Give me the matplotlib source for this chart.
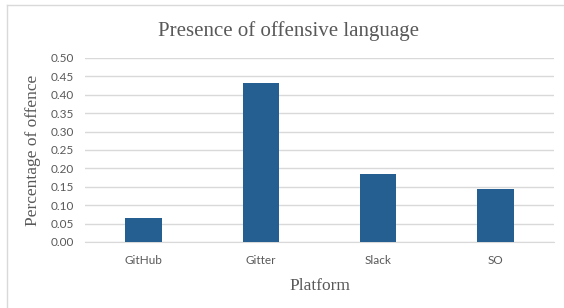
import matplotlib.pyplot as plt
from matplotlib.lines import Line2D

platforms = ["GitHub", "Gitter", "Slack", "SO"]
offence = [0.064, 0.432, 0.186, 0.143]
yticks = [0.00, 0.05, 0.10, 0.15, 0.20, 0.25, 0.30, 0.35, 0.40, 0.45, 0.50]

fig = plt.figure(figsize=(5.64, 3.08), dpi=100)
ax = fig.add_axes([85 / 564, 1 - 242 / 308, 469 / 564, 184 / 308])

x = range(len(platforms))
ax.bar(x, offence, width=0.31, color="#255e91", zorder=3)

ax.set_xlim(-0.5, 3.5)
ax.set_ylim(0, 0.5)
ax.set_yticks(yticks)
ax.set_yticklabels([f"{v:.2f}" for v in yticks], fontfamily="Lato", fontsize=8.5, color="#595959")
ax.set_xticks(list(x))
ax.set_xticklabels(platforms, fontfamily="Lato", fontsize=8.5, color="#595959")
ax.tick_params(length=0, pad=8)
ax.tick_params(axis="x", pad=9)
ax.grid(axis="y", color="#d9d9d9", linewidth=1, zorder=0)
for s in ["top", "right", "left"]:
    ax.spines[s].set_visible(False)
ax.spines["bottom"].set_color("#d9d9d9")

ax.set_ylabel("Percentage of offence", fontfamily="Liberation Serif", fontsize=12.5, color="#595959", labelpad=7)
ax.set_xlabel("Platform", fontfamily="Liberation Serif", fontsize=12.5, color="#595959", labelpad=9)
fig.text(288 / 564, 1 - 31 / 308, "Presence of offensive language", ha="center", va="center",
         fontfamily="Liberation Serif", fontsize=15, color="#595959")

# chart border
fig.add_artist(Line2D([7 / 564, 7 / 564], [0, 1 - 5 / 308], transform=fig.transFigure, color="#d9d9d9", lw=1))
fig.add_artist(Line2D([7 / 564, 1], [1 - 5 / 308, 1 - 5 / 308], transform=fig.transFigure, color="#d9d9d9", lw=1))

fig.savefig("out.png", dpi=100)
